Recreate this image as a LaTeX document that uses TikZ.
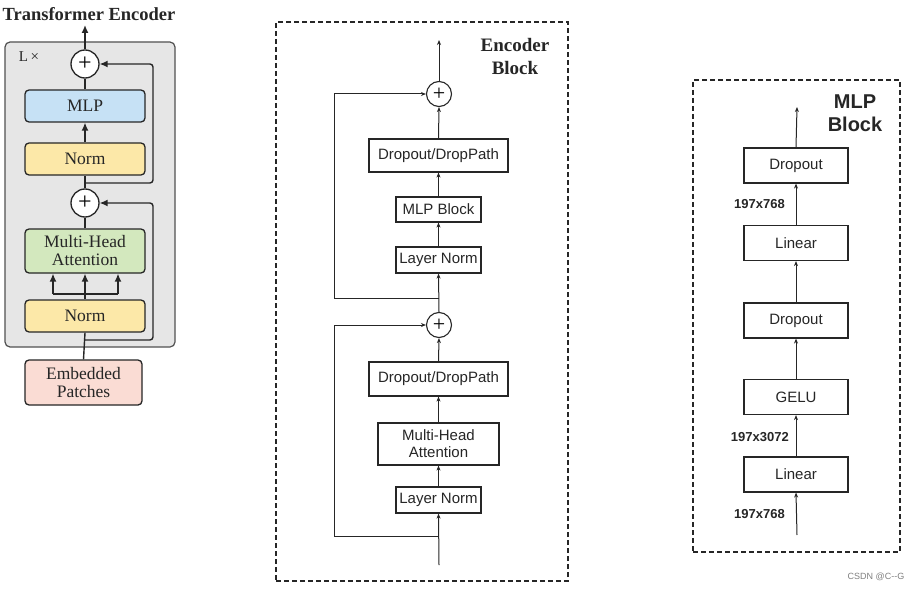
\documentclass[tikz,border=0pt]{standalone}
\usepackage{fontspec}
\setmainfont{Liberation Serif}
\newfontfamily\arialf{Liberation Sans}
\usetikzlibrary{arrows.meta}
\definecolor{mlpblue}{HTML}{C6E1F5}
\definecolor{normyel}{HTML}{FCE8A8}
\definecolor{mhagreen}{HTML}{D3E8BE}
\definecolor{embpink}{HTML}{FADCD4}
\definecolor{panelgray}{HTML}{E6E6E6}
\definecolor{ink}{HTML}{262626}
\begin{document}
\begin{tikzpicture}[x=1pt,y=-1pt,
  vitbox/.style={draw=ink,line width=1.3pt,rounded corners=4pt,minimum width=120pt,minimum height=32pt,inner sep=0pt,align=center,font=\fontsize{17.5}{18}\selectfont,text=ink},
  vitcirc/.style={circle,draw=ink,fill=white,line width=1.3pt,minimum size=28pt,inner sep=0pt,font=\fontsize{24}{24}\selectfont},
  vitline/.style={draw=ink,line width=1.4pt},
  vitarr/.style={vitline,-{Latex[length=8pt,width=7pt]}},
  sqbox/.style={draw=ink,line width=1.2pt,minimum height=26pt,inner sep=0pt,align=center,font=\arialf\fontsize{15}{16}\selectfont,text=ink},
  sqcirc/.style={circle,draw=ink,fill=white,line width=1.1pt,minimum size=25pt,inner sep=0pt,font=\fontsize{22}{22}\selectfont},
  thinarr/.style={draw=ink,line width=1pt,-{Stealth[length=5pt,width=4pt]}},
  dimlab/.style={font=\arialf\bfseries\fontsize{13}{13}\selectfont,text=ink,inner sep=0pt,anchor=east},
  dashbox/.style={draw=ink,line width=1.2pt,dash pattern=on 5pt off 3pt,inner sep=0pt}
]
\useasboundingbox (0,0) rectangle (918,591);
\fill[white] (0,0) rectangle (918,591);

% ---------------- Left: Transformer Encoder ----------------
\node[font=\bfseries\fontsize{18.5}{19}\selectfont,text=ink] (ltitle) at (89,14) {Transformer Encoder};
\node[draw=ink!80,fill=panelgray,line width=1.2pt,rounded corners=5pt,minimum width=170pt,minimum height=305pt,inner sep=0pt] (lpanel) at (90,194.5) {};
\node[font=\fontsize{15}{15}\selectfont,text=ink] (lx) at (29,57) {L\,×};

\node[vitcirc] (c1) at (85,64) {+};
\node[vitbox,fill=mlpblue] (mlp) at (85,106) {MLP};
\node[vitbox,fill=normyel] (norm2) at (85,159) {Norm};
\node[vitcirc] (c2) at (85,203) {+};
\node[vitbox,fill=mhagreen,minimum height=44pt] (mha) at (85,251) {Multi-Head\\Attention};
\node[vitbox,fill=normyel] (norm1) at (85,316) {Norm};
\node[vitbox,fill=embpink,minimum width=117pt,minimum height=45pt] (emb) at (83.5,382.5) {Embedded\\Patches};

\coordinate (ltop) at (85,25);
\coordinate (r1a) at (85,340);
\coordinate (r1b) at (153,340);
\coordinate (r2a) at (85,183);
\coordinate (r2b) at (153,183);
\coordinate (fan) at (85,294);
\coordinate (fanl) at (53,294);
\coordinate (fanr) at (118,294);

\draw[vitarr] (c1.north) -- (ltop);
\draw[vitline] (mlp.north) -- (c1.south);
\draw[vitarr] (norm2.north) -- (mlp.south);
\draw[vitline] (c2.north) -- (norm2.south);
\draw[vitline] (mha.north) -- (c2.south);
\draw[vitline] (norm1.north) -- (fan);
\draw[vitline] (fanl) -- (fanr);
\draw[vitarr] (fan) -- (mha.south);
\draw[vitarr] (fanl) -- (fanl |- mha.south);
\draw[vitarr] (fanr) -- (fanr |- mha.south);
\draw[vitline] (emb.north) -- (norm1.south);
\draw[vitarr,rounded corners=3pt] (r1a) -- (r1b) |- (c2.east);
\draw[vitarr,rounded corners=3pt] (r2a) -- (r2b) |- (c1.east);

% ---------------- Middle: Encoder Block ----------------
\node[dashbox,minimum width=292pt,minimum height=559pt] (encpanel) at (422,301.5) {};
\node[font=\bfseries\fontsize{19}{23}\selectfont,text=ink,align=center] (enctitle) at (515,57) {Encoder\\Block};

\node[sqcirc] (ct) at (439,94) {+};
\node[sqbox,minimum width=139pt,minimum height=33pt] (dp2) at (438.5,155.5) {Dropout/DropPath};
\node[sqbox,minimum width=85pt,minimum height=25pt] (mlpb) at (438.5,209.5) {MLP Block};
\node[sqbox,minimum width=85pt] (ln2) at (438.5,260) {Layer Norm};
\node[sqcirc] (cb) at (439,325) {+};
\node[sqbox,minimum width=139pt,minimum height=34pt] (dp1) at (438.5,379) {Dropout/DropPath};
\node[sqbox,minimum width=121pt,minimum height=42pt,font=\arialf\fontsize{15}{17}\selectfont] (mhb) at (438.5,444) {Multi-Head\\Attention};
\node[sqbox,minimum width=85pt] (ln1) at (438.5,500) {Layer Norm};

\coordinate (mtop) at (439,40);
\coordinate (mbot) at (439,565);
\coordinate (j2) at (439,298);
\coordinate (j2l) at (334,298);
\coordinate (j1) at (439,536);
\coordinate (j1l) at (334,536);

\draw[thinarr] (ct.north) -- (mtop);
\draw[thinarr] (dp2.north) -- (ct.south);
\draw[thinarr] (mlpb.north) -- (dp2.south);
\draw[thinarr] (ln2.north) -- (mlpb.south);
\draw[thinarr] (cb.north) -- (ln2.south);
\draw[thinarr] (j2) -- (j2l) |- (ct.west);
\draw[thinarr] (dp1.north) -- (cb.south);
\draw[thinarr] (mhb.north) -- (dp1.south);
\draw[thinarr] (ln1.north) -- (mhb.south);
\draw[thinarr] (mbot) -- (ln1.south);
\draw[thinarr] (j1) -- (j1l) |- (cb.west);

% ---------------- Right: MLP Block ----------------
\node[dashbox,minimum width=207pt,minimum height=472pt] (mlppanel) at (796.5,316) {};
\node[font=\arialf\bfseries\fontsize{20}{23}\selectfont,text=ink,align=center] (mlptitle) at (855,113.5) {MLP\\Block};

\node[sqbox,minimum width=104pt,minimum height=35pt] (dr2) at (796,165.5) {Dropout};
\node[sqbox,minimum width=104pt,minimum height=35pt] (lin2) at (796,243) {Linear};
\node[sqbox,minimum width=104pt,minimum height=35pt] (dr1) at (796,320.5) {Dropout};
\node[sqbox,minimum width=104pt,minimum height=35pt] (gelu) at (796,397) {GELU};
\node[sqbox,minimum width=104pt,minimum height=35pt] (lin1) at (796,474.5) {Linear};

\coordinate (rtop) at (797,107);
\coordinate (rbot) at (797,535);
\draw[thinarr] (dr2.north) -- (rtop);
\draw[thinarr] (lin2.north) -- (dr2.south);
\draw[thinarr] (dr1.north) -- (lin2.south);
\draw[thinarr] (gelu.north) -- (dr1.south);
\draw[thinarr] (lin1.north) -- (gelu.south);
\draw[thinarr] (rbot) -- (lin1.south);

\node[dimlab] (d3) at (785,204) {197x768};
\node[dimlab] (d2) at (789,437) {197x3072};
\node[dimlab] (d1) at (785,514) {197x768};

\node[font=\arialf\fontsize{9}{9}\selectfont,text=gray] (csdn) at (876,577) {CSDN @C--G};
\end{tikzpicture}
\end{document}
